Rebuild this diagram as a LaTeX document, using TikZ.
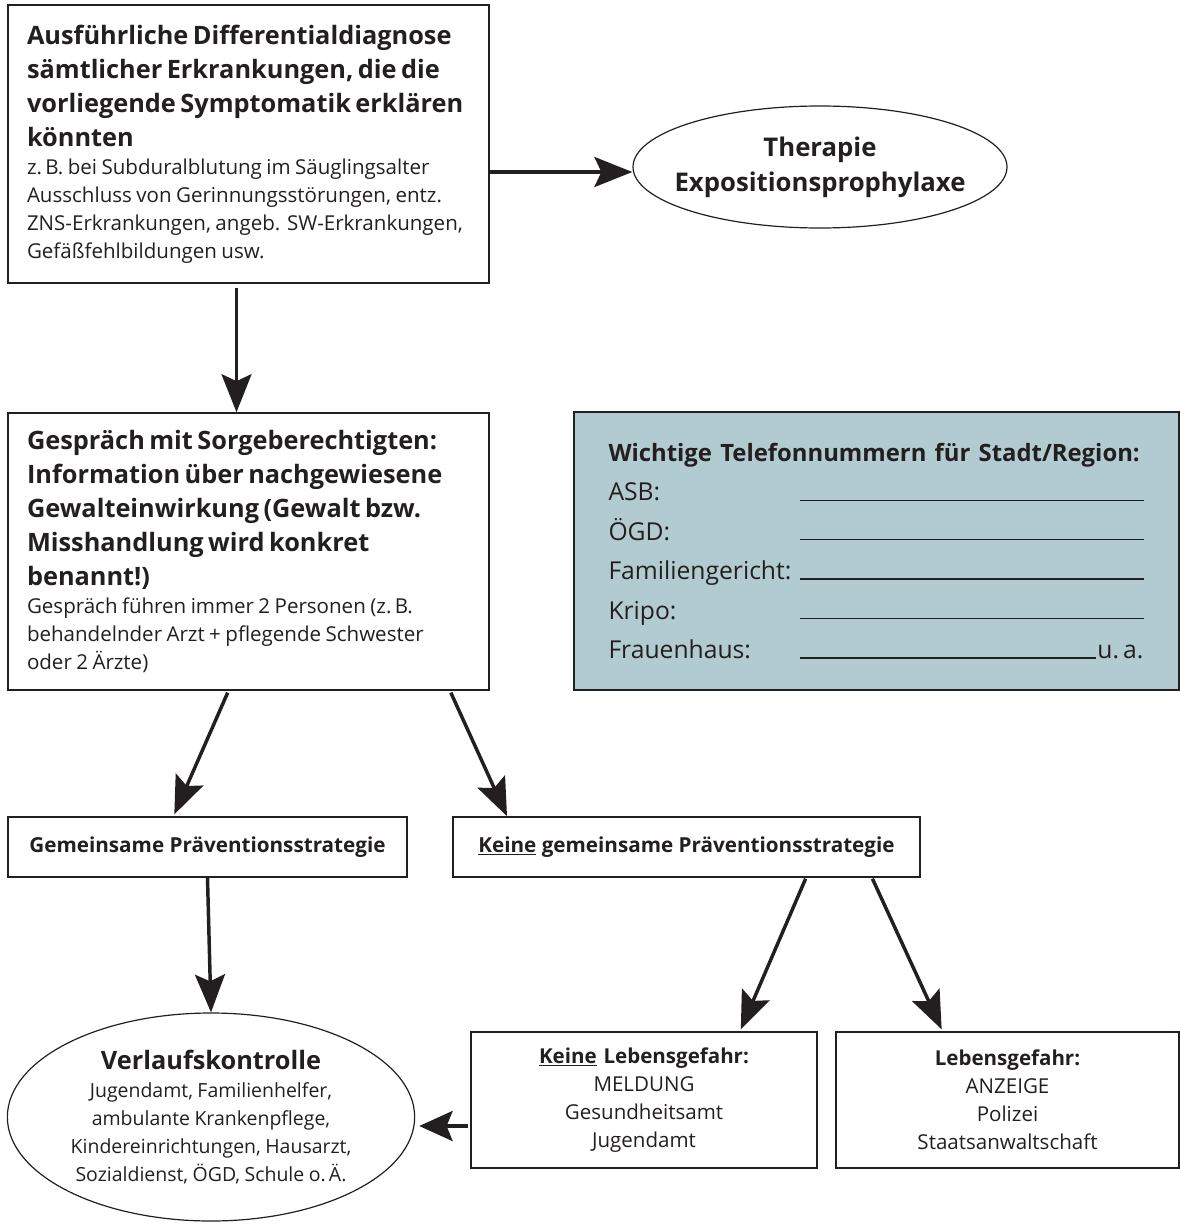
\documentclass[tikz,border=0pt]{standalone}
\usepackage{fontspec}
\setmainfont{Open Sans}
\usetikzlibrary{shapes.geometric,arrows.meta}
\newlength{\px}
\setlength{\px}{0.75pt}
\definecolor{telblue}{RGB}{178,203,208}
\definecolor{frame}{RGB}{35,31,32}
\newcommand{\hdfont}{\fontsize{19pt}{25.5pt}\selectfont\bfseries}
\newcommand{\smfont}{\fontsize{15.4pt}{21pt}\selectfont}
\newcommand{\ovfont}{\fontsize{14.6pt}{21pt}\selectfont}
\newcommand{\telrow}[1]{\makebox[191\px][l]{#1}\rule{344\px}{1.2\px}}
\tikzset{
    box/.style={draw=frame, line width=1.2pt, inner sep=0pt, align=left},
    oval/.style={ellipse, draw=frame, line width=0.9pt, inner sep=0pt, align=center},
    arr/.style={draw=frame, line width=2.6pt, -{Stealth[length=28.5pt, width=22.5pt, inset=5.25pt]}},
    shortarr/.style={draw=frame, line width=2.6pt, -{Stealth[length=25pt, width=22.5pt, inset=4.5pt]}}
}

\begin{document}
\begin{tikzpicture}[x=0.75pt, y=-0.75pt, text=frame]
    \useasboundingbox (0,0) rectangle (1180,1227);

    \node[box, minimum width=481\px, minimum height=278\px, text width=443\px] (diagnose) at (248.5,144)
        {{\hdfont Ausführliche Differentialdiagnose\\ sämtlicher Erkrankungen, die die\\ vorliegende Symptomatik erklären\\ könnten\par}
         {\smfont z.\,B. bei Subduralblutung im Säuglingsalter\\ Ausschluss von Gerinnungsstörungen, entz.\\ ZNS-Erkrankungen, angeb. SW-Erkrankungen,\\ Gefäßfehlbildungen usw.\par}};

    \node[oval, minimum width=374\px, minimum height=122\px, text width=310\px, inner xsep=-23\px,
          font=\fontsize{19.3pt}{26pt}\selectfont\bfseries] (therapie) at (820,167)
        {Therapie\\ Expositionsprophylaxe};

    \node[box, minimum width=481\px, minimum height=277\px, text width=443\px] (gespraech) at (248.5,551.5)
        {{\hdfont Gespräch mit Sorgeberechtigten:\\ Information über nachgewiesene\\ Gewalteinwirkung (Gewalt bzw.\\ Misshandlung wird konkret\\ benannt!)\par}
         {\smfont Gespräch führen immer 2 Personen (z.\,B.\\ behandelnder Arzt + pflegende Schwester\\ oder 2 Ärzte)\par}};

    \node[box, fill=telblue, minimum width=605\px, minimum height=278\px, text width=536\px,
          font=\fontsize{18.5pt}{29.6pt}\selectfont] (telefon) at (876.5,551)
        {\mbox{\fontsize{17.9pt}{29.6pt}\selectfont\bfseries Wichtige Telefonnummern für Stadt/Region:}\\
         \telrow{ASB:}\\
         \telrow{ÖGD:}\\
         \telrow{Familiengericht:}\\
         \telrow{Kripo:}\\
         \makebox[191\px][l]{Frauenhaus:}\rule{296\px}{1.2\px}\makebox[48\px][r]{u.\,a.}};

    \node[box, minimum width=399\px, minimum height=60\px, align=center, font=\fontsize{15.5pt}{21pt}\selectfont\bfseries] (gemeinsam) at (207.5,847)
        {Gemeinsame Präventionsstrategie};
    \node[box, minimum width=467\px, minimum height=60\px, align=center, font=\fontsize{15.5pt}{21pt}\selectfont\bfseries] (keinegem) at (686.5,847)
        {\underline{Keine} gemeinsame Präventionsstrategie};

    \node[oval, minimum width=406\px, minimum height=208\px, text width=300\px, inner xsep=-6\px, inner ysep=-4\px] (verlauf) at (211,1117)
        {{\hdfont Verlaufskontrolle\par}
         {\ovfont Jugendamt, Familienhelfer,\\ ambulante Krankenpflege,\\ Kindereinrichtungen, Hausarzt,\\ Sozialdienst, ÖGD, Schule o.\,Ä.\par}};

    \node[box, minimum width=346\px, minimum height=136\px, text width=320\px, align=center, font=\smfont] (keinegefahr) at (644,1100)
        {\textbf{\underline{Keine} Lebensgefahr:}\\ MELDUNG\\ Gesundheitsamt\\ Jugendamt};
    \node[box, minimum width=343\px, minimum height=136\px, text width=320\px, align=center, font=\smfont] (gefahr) at (1007.5,1100)
        {\textbf{Lebensgefahr:}\\ ANZEIGE\\ Polizei\\ Staatsanwaltschaft};

    \draw[arr] ([yshift=-28\px]diagnose.east) -- ([yshift=-5\px]therapie.west);
    \draw[arr, shorten <=4\px] ([xshift=-12\px]diagnose.south) -- ([xshift=-12\px]gespraech.north);
    \draw[arr, shorten <=2\px, shorten >=2\px] ([xshift=-20\px]gespraech.south) -- ([xshift=-34\px]gemeinsam.north);
    \draw[arr, shorten <=2\px] ([xshift=201.5\px]gespraech.south) -- ([xshift=-179.5\px]keinegem.north);
    \draw[arr] (gemeinsam.south) -- (verlauf.north);
    \draw[arr, shorten <=1\px, shorten >=2\px] ([xshift=119.5\px]keinegem.south) -- ([xshift=96\px]keinegefahr.north);
    \draw[arr, shorten <=1\px, shorten >=2\px] ([xshift=185.5\px]keinegem.south) -- ([xshift=-65\px]gefahr.north);
    \draw[shortarr, shorten <=2\px, shorten >=4\px] ([yshift=-26\px]keinegefahr.west) -- ([yshift=-9\px]verlauf.east);
\end{tikzpicture}
\end{document}
